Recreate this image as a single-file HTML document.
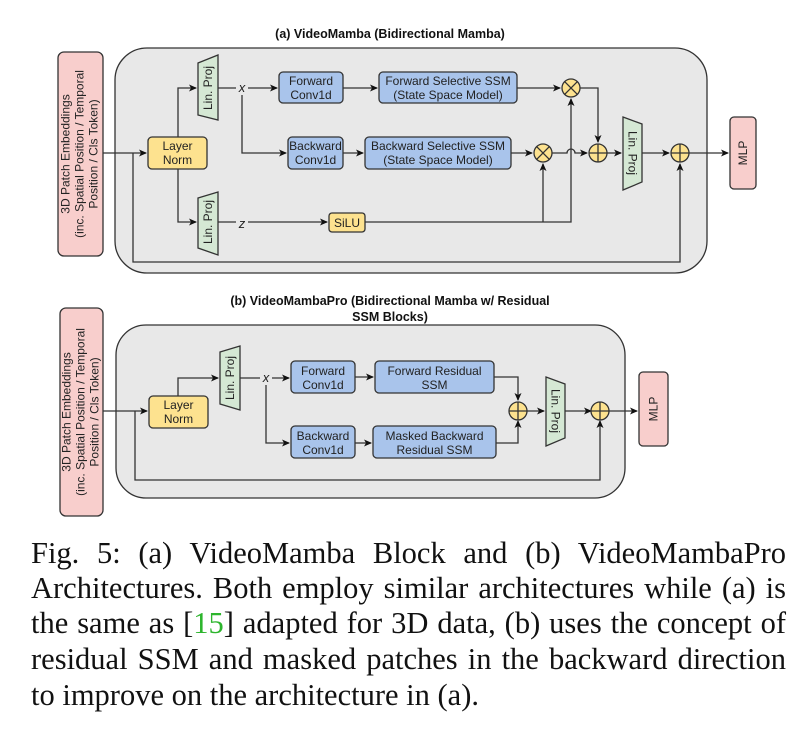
<!DOCTYPE html>
<html><head><meta charset="utf-8"><style>
body{margin:0;background:#fff;width:805px;height:742px;overflow:hidden;position:relative}
svg{position:absolute;left:0;top:0}
.cap{position:absolute;left:31px;width:755px;font-family:"Liberation Serif","Times New Roman",serif;font-size:30.5px;color:#111;text-align:justify;text-align-last:justify;white-space:nowrap;line-height:35px;word-spacing:-1px}
</style></head><body>
<svg width="805" height="530" viewBox="0 0 805 530" font-family="Liberation Sans, sans-serif" font-size="12">
<defs><marker id="a" markerWidth="8" markerHeight="8" refX="7" refY="4" orient="auto" markerUnits="userSpaceOnUse"><path d="M0,0.5 L8,4 L0,7.5 L2,4z" fill="#111"/></marker></defs>
<g stroke="#333" stroke-width="1.3">
<!-- (a) -->
<text x="390" y="38" text-anchor="middle" font-weight="bold" font-size="12.5" stroke="none" fill="#111">(a) VideoMamba (Bidirectional Mamba)</text>
<rect x="115" y="48" width="592" height="225" rx="32" fill="#e8e8e8"/>
<rect x="58" y="52" width="45" height="204" rx="6" fill="#f8cecc"/>
<text transform="translate(80.5,154) rotate(-90)" text-anchor="middle" stroke="none" fill="#222" font-size="12"><tspan x="0" y="-11">3D Patch Embeddings</tspan><tspan x="0" y="3">(inc. Spatial Position / Temporal</tspan><tspan x="0" y="17">Position / Cls Token)</tspan></text>
<rect x="148" y="137" width="59" height="32" rx="4" fill="#fde28f"/>
<text x="177.5" y="150" text-anchor="middle" stroke="none" fill="#222">Layer</text><text x="177.5" y="164" text-anchor="middle" stroke="none" fill="#222">Norm</text>
<path d="M198,63 L218,55 L218,120 L198,115z" fill="#d5e8d4"/>
<text transform="translate(208,88) rotate(-90)" text-anchor="middle" dy="4" stroke="none" fill="#222">Lin. Proj</text>
<path d="M198,198 L218,192 L218,255 L198,248z" fill="#d5e8d4"/>
<text transform="translate(208,222) rotate(-90)" text-anchor="middle" dy="4" stroke="none" fill="#222">Lin. Proj</text>
<rect x="279" y="72" width="64" height="31" rx="4" fill="#a9c4eb"/>
<text x="311" y="85" text-anchor="middle" stroke="none" fill="#222">Forward</text><text x="311" y="99" text-anchor="middle" stroke="none" fill="#222">Conv1d</text>
<rect x="379" y="72" width="138" height="31" rx="4" fill="#a9c4eb"/>
<text x="448" y="85" text-anchor="middle" stroke="none" fill="#222">Forward Selective SSM</text><text x="448" y="99" text-anchor="middle" stroke="none" fill="#222">(State Space Model)</text>
<rect x="288" y="137" width="55" height="32" rx="4" fill="#a9c4eb"/>
<text x="315.5" y="150" text-anchor="middle" stroke="none" fill="#222">Backward</text><text x="315.5" y="164" text-anchor="middle" stroke="none" fill="#222">Conv1d</text>
<rect x="365" y="137" width="146" height="32" rx="4" fill="#a9c4eb"/>
<text x="438" y="150" text-anchor="middle" stroke="none" fill="#222">Backward Selective SSM</text><text x="438" y="164" text-anchor="middle" stroke="none" fill="#222">(State Space Model)</text>
<rect x="329" y="213" width="36" height="19" rx="3" fill="#fde28f"/>
<text x="347" y="227" text-anchor="middle" stroke="none" fill="#222">SiLU</text>
<rect x="730" y="117" width="26" height="72" rx="4" fill="#f8cecc"/>
<text transform="translate(743,153) rotate(-90)" text-anchor="middle" dy="4" stroke="none" fill="#222">MLP</text>
<path d="M623,117 L642,124 L642,182 L623,190z" fill="#d5e8d4"/>
<text transform="translate(632.5,153) rotate(90)" text-anchor="middle" dy="4" stroke="none" fill="#222">Lin. Proj</text>
<text x="242" y="92" text-anchor="middle" font-style="italic" font-size="13" stroke="none" fill="#222">x</text>
<text x="242" y="228" text-anchor="middle" font-style="italic" font-size="13" stroke="none" fill="#222">z</text>
<g fill="none">
<path d="M103,153 H146" marker-end="url(#a)"/>
<path d="M178,137 V88 H196" marker-end="url(#a)"/>
<path d="M178,169 V222 H196" marker-end="url(#a)"/>
<path d="M218,88 H236 M248,88 H277" marker-end="url(#a)"/>
<path d="M242,95 V153 H286" marker-end="url(#a)"/>
<path d="M218,222 H236 M248,222 H327" marker-end="url(#a)"/>
<path d="M343,88 H377" marker-end="url(#a)"/>
<path d="M343,153 H363" marker-end="url(#a)"/>
<path d="M517,88 H560" marker-end="url(#a)"/>
<path d="M511,153 H532" marker-end="url(#a)"/>
<path d="M365,222 H571 V99" marker-end="url(#a)"/>
<path d="M543,222 V164" marker-end="url(#a)"/>
<path d="M552,153 H567 A4,4 0 0 1 575,153 H587" marker-end="url(#a)"/>
<path d="M580,88 H598 V142" marker-end="url(#a)"/>
<path d="M607,153 H621" marker-end="url(#a)"/>
<path d="M642,153 H669" marker-end="url(#a)"/>
<path d="M689,153 H728" marker-end="url(#a)"/>
<path d="M133,153 V262 H680 V164" marker-end="url(#a)"/>
</g>
<g fill="#fde28f">
<circle cx="571" cy="88" r="9"/><path d="M564.6,81.6 L577.4,94.4 M577.4,81.6 L564.6,94.4" />
<circle cx="543" cy="153" r="9"/><path d="M536.6,146.6 L549.4,159.4 M549.4,146.6 L536.6,159.4"/>
<circle cx="598" cy="153" r="9"/><path d="M589,153 H607 M598,144 V162"/>
<circle cx="680" cy="153" r="9"/><path d="M671,153 H689 M680,144 V162"/>
</g>
<!-- (b) -->
<text x="390" y="305" text-anchor="middle" font-weight="bold" font-size="12.5" stroke="none" fill="#111">(b) VideoMambaPro (Bidirectional Mamba w/ Residual</text>
<text x="390" y="321" text-anchor="middle" font-weight="bold" font-size="12.5" stroke="none" fill="#111">SSM Blocks)</text>
<rect x="116" y="325" width="509" height="173" rx="30" fill="#e8e8e8"/>
<rect x="60" y="308" width="43" height="208" rx="6" fill="#f8cecc"/>
<text transform="translate(81.5,412) rotate(-90)" text-anchor="middle" stroke="none" fill="#222" font-size="12"><tspan x="0" y="-11">3D Patch Embeddings</tspan><tspan x="0" y="3">(inc. Spatial Position / Temporal</tspan><tspan x="0" y="17">Position / Cls Token)</tspan></text>
<rect x="149" y="396" width="59" height="32" rx="4" fill="#fde28f"/>
<text x="178.5" y="409" text-anchor="middle" stroke="none" fill="#222">Layer</text><text x="178.5" y="423" text-anchor="middle" stroke="none" fill="#222">Norm</text>
<path d="M220,352 L240,346 L240,410 L220,404z" fill="#d5e8d4"/>
<text transform="translate(230,378) rotate(-90)" text-anchor="middle" dy="4" stroke="none" fill="#222">Lin. Proj</text>
<rect x="291" y="361" width="64" height="32" rx="4" fill="#a9c4eb"/>
<text x="323" y="375" text-anchor="middle" stroke="none" fill="#222">Forward</text><text x="323" y="389" text-anchor="middle" stroke="none" fill="#222">Conv1d</text>
<rect x="375" y="361" width="119" height="32" rx="4" fill="#a9c4eb"/>
<text x="434.5" y="375" text-anchor="middle" stroke="none" fill="#222">Forward Residual</text><text x="434.5" y="389" text-anchor="middle" stroke="none" fill="#222">SSM</text>
<rect x="291" y="426" width="64" height="32" rx="4" fill="#a9c4eb"/>
<text x="323" y="440" text-anchor="middle" stroke="none" fill="#222">Backward</text><text x="323" y="454" text-anchor="middle" stroke="none" fill="#222">Conv1d</text>
<rect x="373" y="426" width="123" height="32" rx="4" fill="#a9c4eb"/>
<text x="434.5" y="440" text-anchor="middle" stroke="none" fill="#222">Masked Backward</text><text x="434.5" y="454" text-anchor="middle" stroke="none" fill="#222">Residual SSM</text>
<path d="M546,377 L565,384 L565,438 L546,446z" fill="#d5e8d4"/>
<text transform="translate(555.5,411) rotate(90)" text-anchor="middle" dy="4" stroke="none" fill="#222">Lin. Proj</text>
<rect x="639" y="372" width="29" height="74" rx="4" fill="#f8cecc"/>
<text transform="translate(653.5,409) rotate(-90)" text-anchor="middle" dy="4" stroke="none" fill="#222">MLP</text>
<text x="266" y="382" text-anchor="middle" font-style="italic" font-size="13" stroke="none" fill="#222">x</text>
<g fill="none">
<path d="M103,411 H147" marker-end="url(#a)"/>
<path d="M178,396 V378 H218" marker-end="url(#a)"/>
<path d="M240,378 H260 M272,378 H289" marker-end="url(#a)"/>
<path d="M266,385 V443 H289" marker-end="url(#a)"/>
<path d="M355,377 H373" marker-end="url(#a)"/>
<path d="M355,443 H371" marker-end="url(#a)"/>
<path d="M494,377 H518 V400" marker-end="url(#a)"/>
<path d="M496,443 H518 V421" marker-end="url(#a)"/>
<path d="M527,411 H544" marker-end="url(#a)"/>
<path d="M565,411 H591" marker-end="url(#a)"/>
<path d="M609,411 H637" marker-end="url(#a)"/>
<path d="M135,411 V480 H600 V421" marker-end="url(#a)"/>
</g>
<g fill="#fde28f">
<circle cx="518" cy="411" r="9"/><path d="M509,411 H527 M518,402 V420"/>
<circle cx="600" cy="411" r="9"/><path d="M591,411 H609 M600,402 V420"/>
</g>
</g>
</svg>
<div class="cap" style="top:536px">Fig. 5: (a) VideoMamba Block and (b) VideoMambaPro</div>
<div class="cap" style="top:571px">Architectures. Both employ similar architectures while (a) is</div>
<div class="cap" style="top:606px">the same as [<span style="color:#2db52d">15</span>] adapted for 3D data, (b) uses the concept of</div>
<div class="cap" style="top:642px">residual SSM and masked patches in the backward direction</div>
<div class="cap" style="top:678px;text-align-last:left;word-spacing:0">to improve on the architecture in (a).</div>
</body></html>
